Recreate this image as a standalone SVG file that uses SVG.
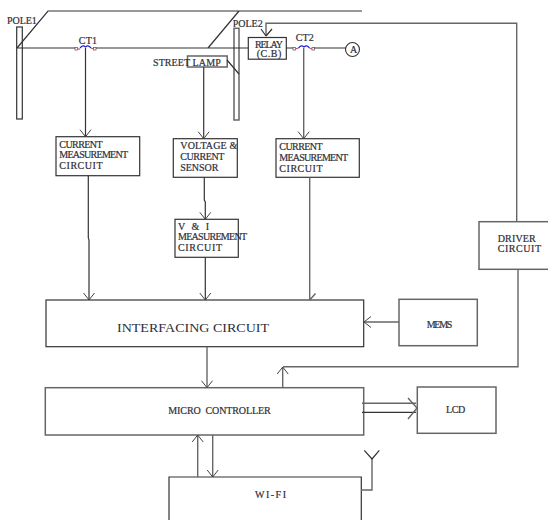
<svg xmlns="http://www.w3.org/2000/svg" width="548" height="520" viewBox="0 0 548 520">
<defs>
<marker id="a" markerUnits="userSpaceOnUse" markerWidth="16" markerHeight="16" refX="11" refY="8" orient="auto"><path d="M4 2.500L11 8L4 13.500" fill="none" stroke="#444" stroke-width="1"/></marker>
</defs>
<style>
.b{fill:#fff;stroke:#333;stroke-width:1.200}
.g{fill:#fff;stroke:#666;stroke-width:1.500}
.l{fill:none;stroke:#333;stroke-width:1.200}
.m{fill:none;stroke:#666;stroke-width:1.400}
.h{marker-end:url(#a)}
text{font-family:"Liberation Serif",serif;font-size:10px;fill:#2e2e38;stroke:#2e2e38;stroke-width:.2}
</style>
<rect width="548" height="520" fill="#fff"/>
<g id="pole1"><rect class="b" x="16.700" y="27" width="5.600" height="92"/><text x="7" y="24" textLength="29.700">POLE1</text></g>
<g id="pole2"><rect class="g" x="234" y="28.300" width="5" height="91.700"/><text x="232.700" y="26.700" textLength="30">POLE2</text></g>
<g id="ct1"><path d="M80 48L81.500 46.500Q83.500 45 85.500 47Q87.500 45 89.500 46.500L91 48" fill="none" stroke="#22c" stroke-width="1.100"/><path d="M77.500 49H80M91 48L93.500 49" fill="none" stroke="#c33" stroke-width="1"/><rect x="75" y="47.500" width="2.500" height="2.500" fill="#fff" stroke="#666" stroke-width=".8"/><rect x="93.500" y="47.500" width="2.500" height="2.500" fill="#fff" stroke="#666" stroke-width=".8"/><text x="78.700" y="44.300" textLength="18.300">CT1</text></g>
<g id="ct2"><path d="M298.500 48L300 46.500Q302 45 304 47Q306 45 308 46.500L309.500 48" fill="none" stroke="#22c" stroke-width="1.100"/><path d="M295.500 49L298.500 48M309.500 48L312 49" fill="none" stroke="#c33" stroke-width="1"/><rect x="293" y="47.500" width="2.500" height="2.500" fill="#fff" stroke="#666" stroke-width=".8"/><rect x="312" y="47.500" width="2.500" height="2.500" fill="#fff" stroke="#666" stroke-width=".8"/><text x="295.700" y="41" textLength="18">CT2</text></g>
<g id="relay"><rect class="b" x="248.300" y="37.500" width="38" height="21.700"/><text x="255" y="47.700" textLength="28">RELAY</text><text x="256.700" y="57.300" textLength="24.600">(C.B)</text></g>
<g id="ammeter"><circle cx="352.500" cy="49.500" r="7" fill="#fff" stroke="#333" stroke-width="1.100"/><text x="350" y="52.700">A</text></g>
<g id="street-lamp"><rect class="g" x="187.500" y="56" width="39.700" height="11"/><text x="153" y="65.700" textLength="67.700">STREET LAMP</text></g>
<g id="current-1"><rect class="b" x="56" y="136.700" width="83.700" height="39"/><text x="59.300" y="147.700" textLength="43.300">CURRENT</text><text x="59.300" y="158" textLength="68.700">MEASUREMENT</text><text x="59.300" y="168.700" textLength="43.300">CIRCUIT</text></g>
<g id="sensor"><rect class="b" x="173.300" y="138.700" width="64" height="38.600"/><text x="180.300" y="149" textLength="57">VOLTAGE &amp;</text><text x="180.300" y="160" textLength="44">CURRENT</text><text x="180.300" y="171" textLength="38">SENSOR</text></g>
<g id="current-2"><rect class="b" x="276" y="138.700" width="83.300" height="38.600"/><text x="279.300" y="150" textLength="43.300">CURRENT</text><text x="279.300" y="160.700" textLength="68.700">MEASUREMENT</text><text x="279.300" y="172" textLength="43.300">CIRCUIT</text></g>
<g id="vi"><rect class="b" x="175" y="219.300" width="63.300" height="38"/><text x="178" y="230" textLength="31">V &amp; I</text><text x="178" y="240.300" textLength="69">MEASUREMENT</text><text x="178" y="251" textLength="44">CIRCUIT</text></g>
<g id="driver"><rect class="g" x="479" y="221.700" width="70" height="47.600"/><text x="497.700" y="241.700" textLength="38">DRIVER</text><text x="497.700" y="251.700" textLength="43.300">CIRCUIT</text></g>
<g id="interfacing"><rect class="b" x="46" y="300" width="317.700" height="46.700"/><text x="117" y="332" style="font-size:13.500px;stroke:none" textLength="152" lengthAdjust="spacingAndGlyphs">INTERFACING CIRCUIT</text></g>
<g id="mems"><rect class="g" x="399" y="299.300" width="78.300" height="46.400"/><text x="426.700" y="328.300" textLength="25.600">MEMS</text></g>
<g id="micro"><rect class="g" x="45.300" y="387.700" width="318.400" height="47.300"/><text x="168.300" y="414.300" xml:space="preserve" textLength="102.400">MICRO  CONTROLLER</text></g>
<g id="lcd"><rect class="g" x="417.300" y="387" width="78.700" height="46.300"/><text x="446" y="412.700" textLength="19.300">LCD</text></g>
<g id="wifi"><path class="b" d="M169 520V477H361.300V520" style="fill:none"/><text x="255" y="498.300" textLength="31">WI-FI</text></g>
<g id="connectors">
<path class="l" d="M17 48L48 11H362M239 11L208 48M17 48H75M96 48H248M286 48H293M314 48H345.500M227 60L239 74"/>
<path class="l h" d="M85.500 48V136.700"/>
<path class="l h" d="M203.700 67V138.700"/>
<path class="m h" d="M303.700 48V138.700"/>
<path class="m" d="M266 36V23.300H516.700V221.700"/>
<path class="l" d="M266 36L261 29M266 36L272 29"/>
<path class="l h" d="M88.300 175.700V238L89 240V300"/>
<path class="l h" d="M204.300 177.300V200L205.300 202V219.300"/>
<path class="l h" d="M205.300 257.300V300"/>
<path class="m" d="M309.700 177.300V300M309.700 300L315.500 293.500"/>
<path class="m h" d="M399 322H364"/>
<path class="m h" d="M207 346.700V387.700"/>
<path class="m" d="M518 269.300V366.700H283"/>
<path class="m h" d="M282.700 387.700V367"/>
<path class="m" d="M362 403.300H416"/>
<path class="l" d="M362 412.300H416"/>
<path class="m" d="M408 398L417 408L408 419"/>
<path class="m h" d="M197.700 477V435"/>
<path class="m h" d="M212.700 435V477"/>
<path class="m" d="M361 490H372V459"/>
<path class="l" d="M364.300 450.300L372 459L379.300 450.300"/>
</g>
</svg>
